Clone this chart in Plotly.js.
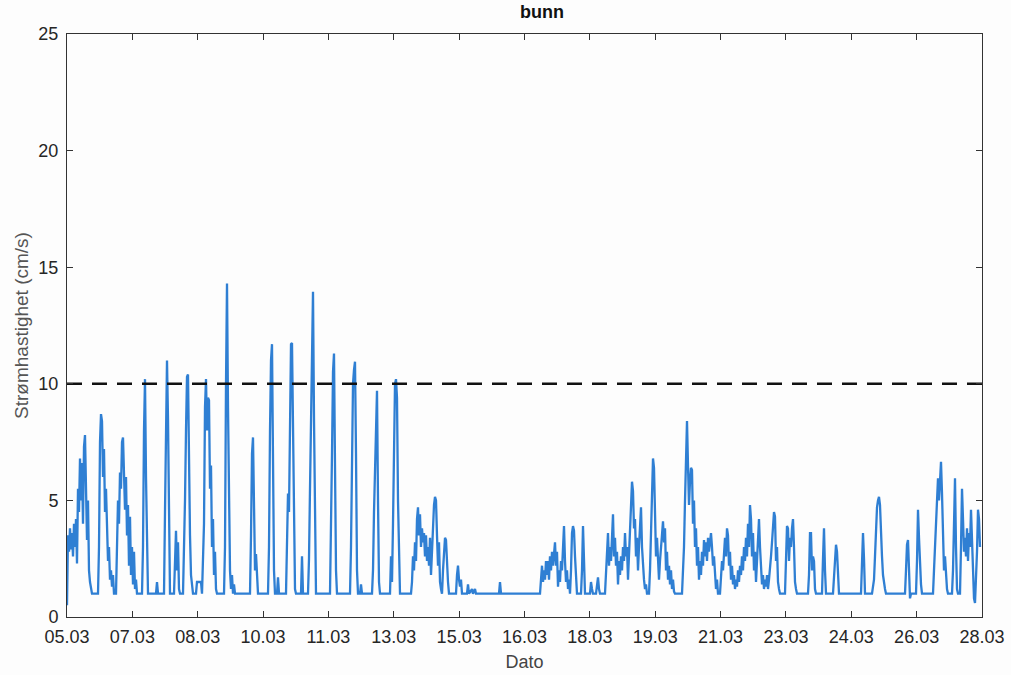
<!DOCTYPE html>
<html>
<head>
<meta charset="utf-8">
<script src="https://cdn.plot.ly/plotly-3.0.1.min.js"></script>
<style>
  html, body { margin: 0; padding: 0; background: #fdfdfd; }
  #chart { width: 1011px; height: 675px; }
</style>
</head>
<body>
<div id="chart"></div>
<script>
// ---- Record limits (day of March) and sampling ----
const recordStartDay = 5.5;
const recordEndDay = 28.04;
const samplesPerRecord = 915;

// ---- X tick labels (dd.mm) ----
const tickLabels = ['05.03','07.03','08.03','10.03','11.03','13.03','15.03','16.03',
                    '18.03','19.03','21.03','23.03','24.03','26.03','28.03'];
const yTicks = [0, 5, 10, 15, 20, 25];
const threshold = 10;

// ---- Measured series: sample number and current speed (cm/s) ----
const sampleNo = [
  0,1,2,3,4,5,6,7,8,9,10,11,12,13,14,15,16,17,18,19,20,21,22,23,24,25,31,
  32,33,34,35,36,37,38,39,40,41,42,43,44,45,46,47,49,
  50,51,52,53,54,55,56,57,58,59,60,61,62,63,64,65,66,67,68,69,70,75,
  76,77,78,79,80,81,89,90,91,97,
  98,99,100,101,102,103,107,108,109,110,111,112,113,116,
  117,118,119,120,121,122,123,124,125,126,129,130,134,135,
  137,138,139,140,141,142,143,144,145,146,147,148,149,150,157,
  158,159,160,161,162,163,164,165,166,167,168,183,
  184,185,186,187,188,189,190,191,201,
  202,203,204,205,206,207,208,210,211,212,219,
  220,221,222,223,224,225,226,227,228,229,234,235,236,241,
  242,243,244,245,246,247,248,249,263,
  264,265,266,267,268,269,270,283,
  284,285,286,287,288,289,290,291,293,294,295,305,
  306,307,308,309,310,311,312,313,323,324,325,326,
  327,328,329,330,331,332,333,344,
  345,346,347,348,349,350,351,352,353,354,355,356,357,358,359,360,361,362,363,364,
  365,366,367,368,369,370,371,372,373,374,375,376,377,378,379,380,381,382,
  389,390,391,392,393,394,395,400,401,402,405,406,408,409,432,433,434,473,
  474,475,476,477,478,479,480,481,482,483,484,485,486,487,488,489,490,491,492,493,
  494,495,496,497,498,499,500,501,502,503,504,505,506,507,508,509,510,
  514,515,516,517,518,523,524,525,526,529,530,531,532,533,538,
  539,540,541,542,543,544,545,546,547,548,549,550,551,552,553,554,555,556,557,558,
  559,560,561,562,563,564,565,566,567,568,569,570,571,572,573,574,575,576,577,578,579,580,582,
  583,584,585,586,587,588,589,590,591,592,593,594,595,596,597,598,599,600,601,602,
  603,604,605,606,607,608,615,
  616,617,618,619,620,621,622,623,624,625,626,627,628,629,630,631,632,633,634,635,
  636,637,638,639,640,641,642,643,644,645,646,647,648,649,650,651,653,
  654,655,656,657,658,659,660,661,662,663,664,665,666,667,668,669,670,671,672,673,
  674,675,676,677,678,679,680,681,682,683,684,685,686,687,688,689,690,691,692,693,
  694,695,696,697,698,699,700,701,702,703,704,705,706,707,708,709,710,711,712,713,718,
  719,720,721,722,723,724,725,726,727,728,729,730,741,
  742,743,744,745,746,747,748,749,755,756,757,758,759,766,767,768,769,770,771,772,794,
  795,796,797,798,805,806,807,808,809,810,811,812,813,814,815,816,817,818,819,838,
  839,840,841,842,843,844,849,850,851,852,853,854,855,866,
  867,868,869,870,871,872,873,874,875,876,877,878,879,880,881,885,
  886,887,888,889,890,891,893,
  894,895,896,897,898,899,900,901,902,903,904,905,906,907,908,909,910,911,912,913
];
const speed = [
  0.5,3.5,2.8,3.8,2.9,3.6,2.6,4.0,3.0,4.2,2.3,5.5,4.5,6.8,5.0,6.6,4.0,7.3,7.8,5.5,3.3,5.0,2.0,1.5,1.2,1.0,1.0,
  3.0,7.5,8.7,8.4,6.0,7.2,4.5,5.5,3.2,2.4,3.0,1.6,2.0,1.3,1.8,1.0,1.0,
  2.5,5.0,4.0,6.2,5.5,7.5,7.7,6.5,4.6,6.0,3.5,4.8,2.2,4.3,1.8,3.0,1.4,2.8,1.2,1.6,1.0,1.0,
  3.0,8.0,10.2,6.0,2.0,1.0,1.0,1.5,1.0,1.0,
  4.5,9.0,11.0,8.5,2.5,1.0,1.0,2.5,3.7,2.0,3.2,1.2,1.0,1.0,
  2.5,5.0,8.0,10.3,10.4,6.0,3.5,1.8,1.2,1.0,1.0,1.5,1.5,1.0,
  4.0,9.0,10.2,8.0,9.4,9.3,5.5,6.5,3.0,4.2,1.8,2.8,1.2,1.0,1.0,
  3.0,10.0,14.3,9.0,4.0,2.0,1.2,1.8,1.0,1.4,1.0,1.0,
  3.5,7.0,7.7,5.0,2.0,2.7,1.5,1.0,1.0,
  3.0,8.0,11.0,11.7,7.0,2.0,1.0,1.0,1.7,1.0,1.0,
  3.0,5.3,4.5,9.0,11.7,11.75,8.0,3.0,1.2,1.0,1.0,2.6,1.0,1.0,
  2.5,5.5,9.0,12.5,13.95,8.5,3.0,1.0,1.0,
  3.5,7.0,10.5,11.3,6.5,2.0,1.0,1.0,
  3.0,6.0,10.0,10.6,10.95,7.0,2.0,1.0,1.0,1.4,1.0,1.0,
  2.0,4.5,6.5,9.0,9.7,5.0,1.5,1.0,1.0,2.6,1.5,4.0,
  8.0,10.0,10.2,9.4,5.0,2.0,1.0,1.0,
  1.5,2.6,2.0,3.2,2.4,4.2,4.7,3.5,4.4,3.0,3.8,3.2,3.6,2.6,3.5,2.4,3.0,2.2,3.4,1.8,
  3.0,4.2,4.8,5.15,5.0,3.5,2.2,3.2,1.5,1.2,1.0,2.0,3.0,3.4,3.3,2.0,1.5,1.0,
  1.0,1.8,2.2,1.6,1.3,1.6,1.0,1.0,1.4,1.0,1.2,1.0,1.2,1.0,1.0,1.5,1.0,1.0,
  1.6,2.2,1.5,2.0,1.6,2.4,1.8,2.4,1.6,2.6,2.0,2.8,2.2,3.0,3.2,2.2,2.8,1.3,2.0,1.5,
  2.4,2.0,3.0,3.9,2.4,1.5,2.0,1.2,1.6,1.0,2.0,3.6,3.9,3.7,2.6,1.6,1.0,
  1.0,2.0,3.9,2.0,1.0,1.0,1.5,1.2,1.0,1.0,1.3,1.7,1.2,1.0,1.0,
  1.8,3.0,3.6,2.2,3.0,2.4,3.2,4.4,2.6,3.4,2.2,2.8,1.4,2.4,1.8,2.6,2.0,3.0,2.4,3.6,
  2.6,3.0,1.6,2.6,3.8,4.6,5.8,5.4,3.8,4.2,2.6,3.4,2.0,3.0,4.0,4.7,3.0,2.0,1.6,1.2,1.4,1.0,1.0,
  2.0,4.0,6.0,6.8,6.4,4.0,2.6,3.4,2.2,1.6,2.4,3.0,3.6,4.1,3.2,3.8,2.0,2.8,1.6,2.2,
  1.4,2.0,1.2,1.6,1.1,1.0,1.0,
  1.8,3.0,5.0,7.4,8.4,6.5,4.8,5.8,6.4,6.3,4.0,5.0,3.0,3.8,2.2,3.0,1.6,2.4,1.8,2.8,
  2.2,3.3,2.6,3.2,2.4,3.4,2.8,3.2,3.6,3.0,2.2,2.6,1.6,1.2,1.6,1.0,1.0,
  1.6,2.4,2.0,3.0,3.4,2.6,3.8,3.5,2.2,2.8,1.6,2.2,1.4,1.8,1.2,1.6,1.3,2.0,1.5,2.2,
  1.8,2.6,2.0,3.0,2.4,3.4,2.6,4.0,3.0,4.8,4.2,2.6,3.6,2.0,2.8,1.5,2.6,3.6,4.2,3.0,
  2.0,1.4,1.8,1.2,1.6,1.3,1.8,1.2,1.6,2.0,2.6,3.2,4.0,4.5,4.3,2.4,3.0,1.5,1.2,1.0,1.0,
  2.2,3.9,3.8,2.4,3.4,3.0,3.8,4.2,3.0,1.5,1.2,1.0,1.0,
  1.8,3.6,3.6,2.0,2.6,2.4,1.2,1.0,1.0,2.5,3.8,2.0,1.0,1.0,1.6,2.4,3.1,2.8,1.5,1.0,1.0,
  2.0,3.6,2.5,1.0,1.0,1.4,1.6,2.6,3.8,4.7,5.0,5.15,4.8,3.4,2.6,1.8,1.4,1.2,1.0,1.0,
  2.0,3.1,3.3,2.0,0.8,1.0,1.0,2.4,4.6,3.4,2.2,1.4,1.0,1.0,
  2.0,3.0,4.5,5.0,5.95,5.0,6.2,6.66,5.3,3.8,2.0,2.6,1.6,1.2,1.0,1.0,
  2.0,4.0,5.95,3.0,1.2,1.0,1.0,
  3.0,5.5,4.2,2.8,3.4,2.6,3.8,2.4,3.6,3.0,4.6,3.2,1.8,0.8,0.6,1.4,2.8,4.6,4.2,3.0
];
if (sampleNo.length !== speed.length) console.error('length mismatch', sampleNo.length, speed.length);

const dayStep = (recordEndDay - recordStartDay) / samplesPerRecord;
const timeDay = sampleNo.map(n => recordStartDay + n * dayStep);
const tickStep = (recordEndDay - recordStartDay) / (tickLabels.length - 1);
const tickVals = tickLabels.map((_, i) => recordStartDay + i * tickStep);

const FONT = 'Liberation Sans, Arial, Helvetica, sans-serif';

const traces = [
  {
    x: timeDay, y: speed, type: 'scatter', mode: 'lines',
    line: { color: '#2f7fd3', width: 2.3 },
    hoverinfo: 'skip', showlegend: false
  },
  {
    x: [recordStartDay, recordEndDay], y: [threshold, threshold],
    type: 'scatter', mode: 'lines',
    line: { color: '#111111', width: 2.6, dash: '15px,10px' },
    hoverinfo: 'skip', showlegend: false
  }
];

const axisCommon = {
  showline: true, linecolor: '#333', linewidth: 1, mirror: 'ticks',
  ticks: 'inside', ticklen: 6, tickcolor: '#333', tickwidth: 1,
  showgrid: false, zeroline: false,
  tickfont: { family: FONT, size: 18, color: '#262626' }
};

const layout = {
  width: 1011, height: 675,
  paper_bgcolor: '#fdfdfd', plot_bgcolor: '#fdfdfd',
  margin: { l: 67, r: 29, t: 34, b: 58 },
  font: { family: FONT },
  title: {
    text: '<b>bunn</b>', font: { family: FONT, size: 18, color: '#111' },
    x: 0.519, xanchor: 'center', xref: 'paper', y: 0.982, yanchor: 'middle', yref: 'container'
  },
  xaxis: Object.assign({}, axisCommon, {
    range: [recordStartDay, recordEndDay],
    tickmode: 'array', tickvals: tickVals, ticktext: tickLabels,
    ticklabelstandoff: 3,
    title: { text: 'Dato', font: { family: FONT, size: 18, color: '#444' }, standoff: 9 }
  }),
  yaxis: Object.assign({}, axisCommon, {
    range: [0, 25],
    tickmode: 'array', tickvals: yTicks, ticktext: yTicks.map(String),
    ticklabelstandoff: 4,
    title: { text: 'Strømhastighet (cm/s)', font: { family: FONT, size: 19, color: '#555' }, standoff: 4 }
  })
};

Plotly.newPlot('chart', traces, layout, { staticPlot: true, displayModeBar: false });
</script>
</body>
</html>
